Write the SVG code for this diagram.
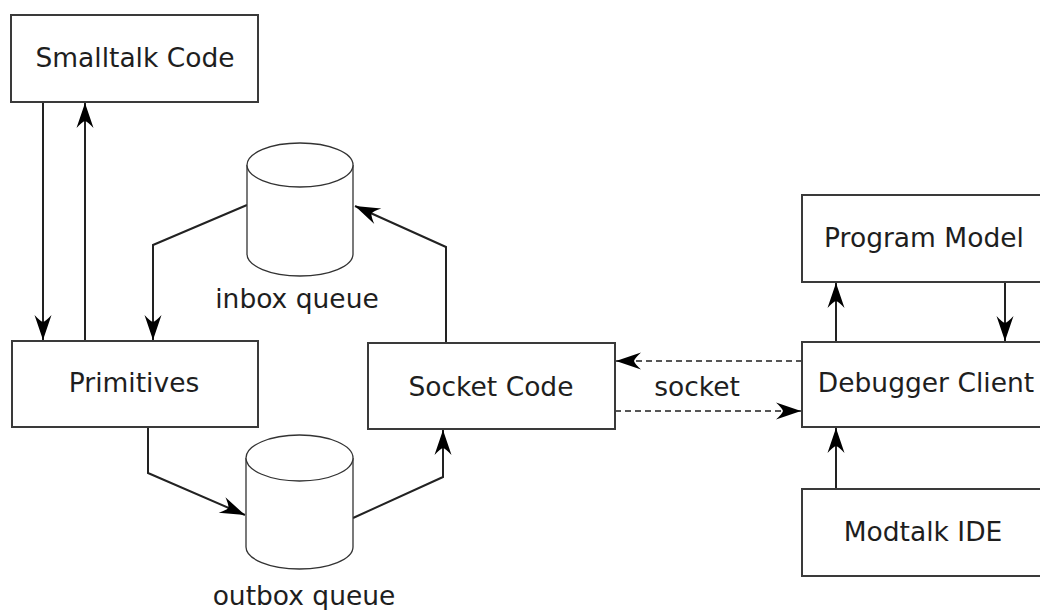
<svg xmlns="http://www.w3.org/2000/svg" width="1040" height="610" viewBox="0 0 1040 610">
<defs>
<style>
.box{fill:#fff;stroke:#3a3a3a;stroke-width:2}
.cyl{fill:#fff;stroke:#333;stroke-width:1.3}
.lbl{font-family:"DejaVu Sans",sans-serif;font-size:26.5px;fill:#1e1e1e;text-anchor:middle}
.con{fill:none;stroke:#222;stroke-width:2;marker-end:url(#arr)}
.dash{fill:none;stroke:#555;stroke-width:2;stroke-dasharray:6,4;marker-end:url(#arr)}
</style>
<marker id="arr" markerUnits="userSpaceOnUse" viewBox="-28 -10 30 20" markerWidth="30" markerHeight="20" refX="0" refY="0" orient="auto">
<path d="M0,0 L-25,-8.5 Q-19,-3 -18,0 Q-19,3 -25,8.5 Z" fill="#000"/>
</marker>
</defs>
<rect width="1040" height="610" fill="#fff"/>
<g id="connectors">
<path class="con" d="M43,102 L43,340"/>
<path class="con" d="M85,341 L85,103"/>
<path class="con" d="M247,205 L153,245 L153,340"/>
<path class="con" d="M446,343 L446,247 L355,206"/>
<path class="con" d="M148,427 L148,473 L245,515"/>
<path class="con" d="M353,518 L443,477 L443,430"/>
<path class="dash" d="M802,361 L616,361"/>
<path class="dash" d="M615,411 L801,411"/>
<path class="con" d="M836,342 L836,283"/>
<path class="con" d="M1005,282 L1005,341"/>
<path class="con" d="M836,489 L836,428"/>
</g>
<g id="smalltalk">
<rect class="box" x="11" y="15" width="247" height="87"/>
<text class="lbl" x="135" y="67">Smalltalk Code</text>
</g>
<g id="primitives">
<rect class="box" x="12" y="341" width="246" height="86"/>
<text class="lbl" x="134" y="392">Primitives</text>
</g>
<g id="socketcode">
<rect class="box" x="368" y="343" width="247" height="86"/>
<text class="lbl" x="491" y="396">Socket Code</text>
</g>
<g id="inbox">
<path class="cyl" d="M247,165 L247,254 A53,22 0 0 0 353,254 L353,165"/>
<ellipse class="cyl" cx="300" cy="165" rx="53" ry="22"/>
<text class="lbl" x="297" y="308">inbox queue</text>
</g>
<g id="outbox">
<path class="cyl" d="M246,458 L246,547 A53.5,22 0 0 0 353,547 L353,458"/>
<ellipse class="cyl" cx="299.5" cy="458" rx="53.5" ry="23"/>
<text class="lbl" x="304" y="605">outbox queue</text>
</g>
<g id="socketlabel">
<text class="lbl" x="697" y="396">socket</text>
</g>
<g id="programmodel">
<rect class="box" x="802" y="195" width="244" height="87"/>
<text class="lbl" x="924" y="247">Program Model</text>
</g>
<g id="debugger">
<rect class="box" x="802" y="342" width="244" height="85"/>
<text class="lbl" x="926" y="392">Debugger Client</text>
</g>
<g id="modtalk">
<rect class="box" x="802" y="489" width="244" height="87"/>
<text class="lbl" x="923" y="541">Modtalk IDE</text>
</g>
</svg>
